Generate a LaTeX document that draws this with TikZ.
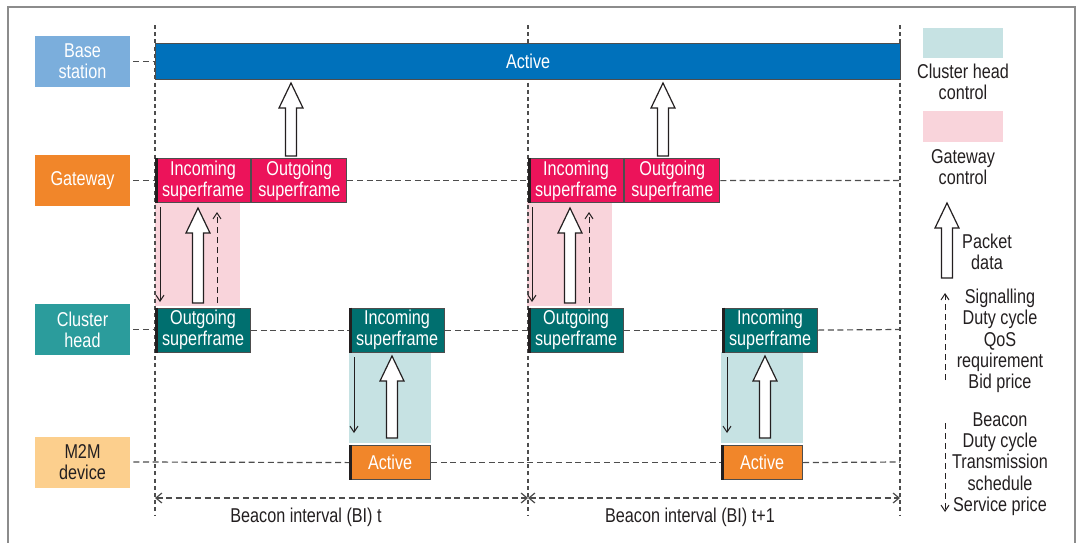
\documentclass[tikz,border=0pt]{standalone}
\usepackage{fontspec}
\setmainfont{Liberation Sans}[FakeStretch=0.81]
\usetikzlibrary{arrows.meta,positioning,calc}

\definecolor{bsblue}{HTML}{7BAEDC}
\definecolor{bsbar}{HTML}{0071BB}
\definecolor{gworange}{HTML}{F1862A}
\definecolor{gwred}{HTML}{EC135A}
\definecolor{chteal}{HTML}{2B9C9C}
\definecolor{chdark}{HTML}{006F6F}
\definecolor{devlight}{HTML}{FCCF8D}
\definecolor{pinkbg}{HTML}{F9D4DB}
\definecolor{bluebg}{HTML}{C6E2E3}
\definecolor{txtdark}{HTML}{231F20}
\definecolor{linegray}{HTML}{4D4D4D}
\definecolor{framegray}{HTML}{8C8C8C}

% hollow packet arrow, drawn from bottom to top
\tikzset{pkt/.style={to path={let \p1=(\tikztostart), \p2=(\tikztotarget) in
  (\x1-2.75pt,\y1) -- (\x1-2.75pt,\y2-12.5pt) -- (\x1-6pt,\y2-12.5pt) -- (\x2,\y2)
  -- (\x1+6pt,\y2-12.5pt) -- (\x1+2.75pt,\y2-12.5pt) -- (\x1+2.75pt,\y1) -- cycle}}}

\begin{document}
\begin{tikzpicture}[x=0.5pt,y=-0.5pt,
  every node/.style={font=\fontsize{10}{10.6}\selectfont,inner sep=0pt,align=center,text=txtdark},
  lbl/.style={minimum width=47.5pt,minimum height=25.5pt,text=white},
  sf/.style={draw=linegray,line width=0.6pt,text=white,minimum width=47.5pt,minimum height=22pt,anchor=north west},
  act/.style={draw=linegray,line width=0.6pt,text=white,fill=gworange,minimum width=40.5pt,minimum height=17pt,anchor=north west},
  timeline/.style={draw=linegray,line width=0.6pt,dash pattern=on 3pt off 1.8pt},
  thin/.style={draw=txtdark,line width=0.5pt,-{Straight Barb[length=3pt,width=4pt]}},
  bi/.style={timeline,{Straight Barb[length=3pt,width=5pt]}-{Straight Barb[length=3pt,width=5pt]}},
  edge/.style={line width=1.5pt,draw=txtdark},
  pktarrow/.style={pkt,draw=txtdark,line width=0.6pt,fill=white}]

\useasboundingbox (0,0) rectangle (1083,542);
\draw[framegray,line width=0.8pt] (8,550) -- (8,7) -- (1075,7) -- (1075,550);

% shaded control regions
\fill[pinkbg] (155,202) rectangle (240,306);
\fill[pinkbg] (527,202) rectangle (612,306);
\fill[bluebg] (349,352) rectangle (431,443);
\fill[bluebg] (721,352) rectangle (803,443);

% beacon interval boundaries
\coordinate (v1t) at (155,25); \coordinate (v1b) at (155,515);
\coordinate (v2t) at (528,25); \coordinate (v2b) at (528,515);
\coordinate (v3t) at (900,25); \coordinate (v3b) at (900,515);
\draw[timeline,dash pattern=on 2pt off 1.6pt] (v1t) -- (v1b);
\draw[timeline,dash pattern=on 2pt off 1.6pt] (v2t) -- (v2b);
\draw[timeline,dash pattern=on 2pt off 1.6pt] (v3t) -- (v3b);

% entities
\node[lbl,fill=bsblue] (bs) at (82.5,61.5) {Base\\station};
\node[lbl,fill=gworange] (gw) at (82.5,180.5) {Gateway};
\node[lbl,fill=chteal] (ch) at (82.5,329.5) {Cluster\\head};
\node[lbl,fill=devlight,text=txtdark] (dev) at (82.5,462) {M2M\\device};

% base station
\node[sf,fill=bsbar,minimum width=372.5pt,minimum height=18pt] (bsact) at (155,43) {Active};

% gateway
\node[sf,fill=gwred] (gwin1) at (155,158) {Incoming\\superframe};
\node[sf,fill=gwred,right=0pt of gwin1] (gwout1) {Outgoing\\superframe};
\node[sf,fill=gwred] (gwin2) at (528,158) {Incoming\\superframe};
\node[sf,fill=gwred,right=0pt of gwin2] (gwout2) {Outgoing\\superframe};

% cluster head
\node[sf,fill=chdark] (chout1) at (155,307.5) {Outgoing\\superframe};
\node[sf,fill=chdark] (chin1) at (349,307.5) {Incoming\\superframe};
\node[sf,fill=chdark] (chout2) at (528,307.5) {Outgoing\\superframe};
\node[sf,fill=chdark] (chin2) at (722,307.5) {Incoming\\superframe};

% M2M device
\node[act] (act1) at (349,445) {Active};
\node[act] (act2) at (721,445) {Active};

% start edges
\foreach \n in {gwin1,gwin2,chout1,chin1,chout2,chin2,act1,act2}
  \draw[edge] ([xshift=0.75pt]\n.north west) -- ([xshift=0.75pt]\n.south west);

% time lines
\draw[timeline] ([xshift=1.5pt]bs.east) -- (bs.east -| v1t);
\draw[timeline] ([xshift=1.5pt]gw.east) -- (gw.east -| v1t);
\draw[timeline] (gwout1.east) -- (gwin2.west);
\draw[timeline] (gwout2.east) -- (gw.east -| v3t);
\draw[timeline] ([xshift=1.5pt]ch.east) -- (ch.east -| v1t);
\draw[timeline] (chout1.east) -- (chin1.west);
\draw[timeline] (chin1.east) -- (chout2.west);
\draw[timeline] (chout2.east) -- (chin2.west);
\draw[timeline] (chin2.east) -- (ch.east -| v3t);
\draw[timeline] ([xshift=1.5pt]dev.east) -- (act1.west);
\draw[timeline] (act1.east) -- (act2.west);
\draw[timeline] (act2.east) -- (dev.east -| v3t);

% packet data
\draw[pktarrow] (291,156) to (291,83);
\draw[pktarrow] (663,156) to (663,83);
\draw[pktarrow] (198,303) to (198,208);
\draw[pktarrow] (570,303) to (570,208);
\draw[pktarrow] (392,438) to (392,356);
\draw[pktarrow] (765,438) to (765,356);

% signalling
\draw[thin] (160,207) -- (160,302);
\draw[thin] (532,207) -- (532,302);
\draw[thin,dash pattern=on 3pt off 2pt] (217,303) -- (217,212);
\draw[thin,dash pattern=on 3pt off 2pt] (589,303) -- (589,212);
\draw[thin] (354,357) -- (354,433);
\draw[thin] (727,357) -- (727,433);

% beacon intervals
\coordinate (bi1) at (155,498); \coordinate (bi2) at (528,498); \coordinate (bi3) at (900,498);
\draw[bi] (bi1) -- (bi2);
\draw[bi] (bi2) -- (bi3);
\node (bit1) at (306,517) {Beacon interval (BI) t};
\node (bit2) at (690,517) {Beacon interval (BI) t+1};

% legend
\node[fill=bluebg,minimum width=40pt,minimum height=15pt] (lgch) at (963,42.5) {};
\node[below=3pt of lgch] (lgchtxt) {Cluster head\\control};
\node[fill=pinkbg,minimum width=40pt,minimum height=15.5pt] (lggw) at (963,126.5) {};
\node[below=3.5pt of lggw] (lggwtxt) {Gateway\\control};
\draw[pktarrow] (947,278) to (947,203);
\node (lgpkt) at (987,252) {Packet\\data};
\node (lgup) at (1000,341) {Signalling\\Duty cycle\\QoS\\requirement\\Bid price};
\node (lgdown) at (1000,464) {Beacon\\Duty cycle\\Transmission\\schedule\\Service price};
\draw[thin,dash pattern=on 3pt off 2pt] (945,380) -- (945,293);
\draw[thin,dash pattern=on 3pt off 2pt] (945,423) -- (945,512);
\end{tikzpicture}
\end{document}
